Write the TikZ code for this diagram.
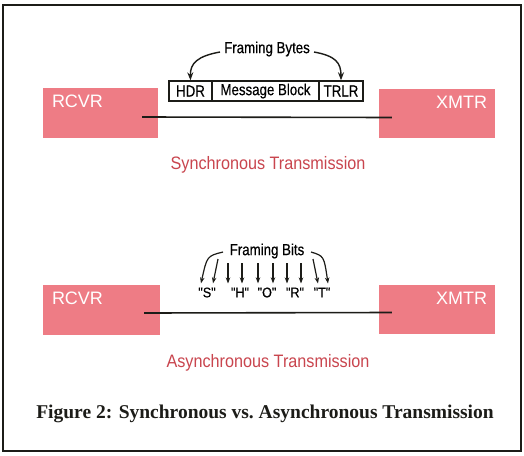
\documentclass[tikz,border=0pt]{standalone}
\usepackage{fontspec}
\usepackage{graphicx}
\setmainfont{Liberation Sans}
\newfontfamily\capfont{Liberation Serif}
\newfontfamily\medsans[FakeBold=0.5]{Liberation Sans}
\usetikzlibrary{arrows.meta}
\definecolor{boxpink}{RGB}{238,124,133}
\definecolor{capred}{RGB}{201,69,78}
\definecolor{ink}{RGB}{28,28,24}
% horizontally condensed text
\newcommand{\narrowtext}[2][0.83]{\scalebox{#1}[1]{#2}}
\tikzset{
  station/.style={fill=boxpink, draw=none, inner sep=0pt},
  stlabel/.style={text=white, font=\fontsize{18}{18}\selectfont, inner sep=0pt},
  field/.style={draw=ink, line width=1.4pt, minimum height=20pt, inner sep=0pt,
                font=\medsans\fontsize{16}{16}\selectfont},
  link/.style={draw=ink, line width=1.6pt},
  modecap/.style={text=capred, font=\fontsize{18}{18}\selectfont, inner sep=0pt},
  note/.style={font=\medsans\fontsize{16}{16}\selectfont, inner sep=0pt},
  bitnote/.style={font=\medsans\fontsize{14}{14}\selectfont, inner sep=0pt},
  ptr/.style={draw=ink, line width=1.4pt, -{Stealth[length=8pt,width=6pt]}},
  bitptr/.style={draw=ink, line width=1.2pt, -{Stealth[length=6pt,width=4.5pt]}},
}
\begin{document}
\begin{tikzpicture}[x=1pt, y=-1pt]
  \useasboundingbox (0,0) rectangle (524,455);
  \fill[white] (0,0) rectangle (524,455);
  \draw[ink, line width=2pt] (3,5) rectangle (521,451);

  % --- synchronous link ---
  \node[station, minimum width=115pt, minimum height=50pt,
        label={[stlabel, anchor=north west, xshift=9pt, yshift=-7pt]north west:RCVR}]
        (rcvr1) at (100.5,113) {};
  \node[station, minimum width=116pt, minimum height=49pt,
        label={[stlabel, anchor=north east, xshift=-8pt, yshift=-7pt]north east:XMTR}]
        (xmtr1) at (437,113.5) {};
  \draw[link] ([xshift=-16pt, yshift=-4pt]rcvr1.east) -- ([xshift=13pt, yshift=-4pt]xmtr1.west);

  \node[field, minimum width=43pt] (hdr) at (190.5,91) {\narrowtext{HDR}};
  \node[field, minimum width=107pt] (msg) at (265.5,91) {\narrowtext{Message Block}};
  \node[field, minimum width=44pt] (trlr) at (341,91) {\narrowtext{TRLR}};

  \node[note] (fbytes) at (267,49) {\narrowtext{Framing Bytes}};
  \draw[ptr] ([xshift=-4pt, yshift=-3pt]fbytes.west) .. controls (198,56) and (190,63) .. (hdr.north);
  \draw[ptr] ([xshift=4pt, yshift=-3pt]fbytes.east) .. controls (336,56) and (341,63) .. (trlr.north);

  \node[modecap] (synccap) at (268,165) {\narrowtext[0.9]{Synchronous Transmission}};

  % --- asynchronous link ---
  \node[station, minimum width=117pt, minimum height=50pt,
        label={[stlabel, anchor=north west, xshift=9pt, yshift=-7pt]north west:RCVR}]
        (rcvr2) at (101.5,310) {};
  \node[station, minimum width=116pt, minimum height=49pt,
        label={[stlabel, anchor=north east, xshift=-8pt, yshift=-7pt]north east:XMTR}]
        (xmtr2) at (437,309.5) {};
  \draw[link] ([xshift=-16pt, yshift=-3pt]rcvr2.east) -- ([xshift=13pt, yshift=-3pt]xmtr2.west);

  \node[note] (fbits) at (267,251) {\narrowtext{Framing Bits}};
  \node[bitnote] (bS) at (207,292.5) {\narrowtext[0.9]{"S"}};
  \node[bitnote] (bH) at (240,292.5) {\narrowtext[0.9]{"H"}};
  \node[bitnote] (bO) at (267,292.5) {\narrowtext[0.9]{"O"}};
  \node[bitnote] (bR) at (295,292.5) {\narrowtext[0.9]{"R"}};
  \node[bitnote] (bT) at (322,292.5) {\narrowtext[0.9]{"T"}};

  % arrow tails
  \coordinate (tS1) at (223,252);
  \coordinate (tS2) at (218,259);
  \coordinate (tH1) at (228,263);
  \coordinate (tH2) at (242,263);
  \coordinate (tO1) at (258,263);
  \coordinate (tO2) at (273,263);
  \coordinate (tR1) at (287,263);
  \coordinate (tR2) at (301,263);
  \coordinate (tT1) at (313,259);
  \coordinate (tT2) at (311,252);

  \draw[bitptr] (tS1) .. controls (207,256) .. ([xshift=-6pt, yshift=4pt]bS.north);
  \draw[bitptr] (tS2) -- ([xshift=6pt, yshift=4pt]bS.north);
  \draw[bitptr] (tH1) -- ([xshift=-12pt, yshift=4pt]bH.north);
  \draw[bitptr] (tH2) -- ([xshift=2pt, yshift=4pt]bH.north);
  \draw[bitptr] (tO1) -- ([xshift=-9pt, yshift=4pt]bO.north);
  \draw[bitptr] (tO2) -- ([xshift=6pt, yshift=4pt]bO.north);
  \draw[bitptr] (tR1) -- ([xshift=-8pt, yshift=4pt]bR.north);
  \draw[bitptr] (tR2) -- ([xshift=6pt, yshift=4pt]bR.north);
  \draw[bitptr] (tT1) -- ([xshift=-4pt, yshift=4pt]bT.north);
  \draw[bitptr] (tT2) .. controls (324,256) .. ([xshift=6pt, yshift=4pt]bT.north);

  \node[modecap] (asynccap) at (268,363) {\narrowtext[0.9]{Asynchronous Transmission}};

  \node[font=\capfont\bfseries\fontsize{19.5}{19.5}\selectfont, text=ink, anchor=base, inner sep=0pt]
        (figcap) at (265,418) {Figure 2: Synchronous vs.\ Asynchronous Transmission};
\end{tikzpicture}
\end{document}
